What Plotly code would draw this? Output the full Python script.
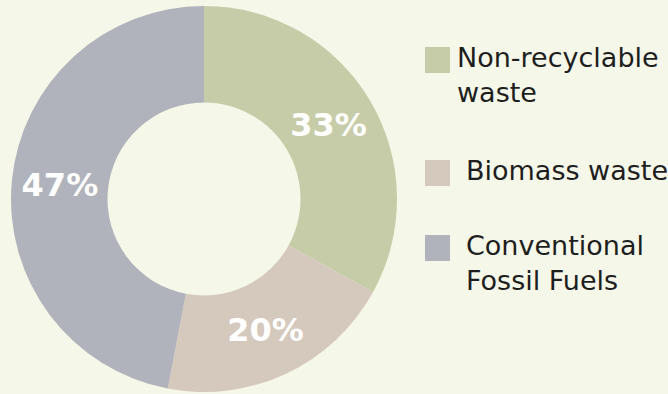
import plotly.graph_objects as go

labels = ["Non-recyclable waste", "Biomass waste", "Conventional Fossil Fuels"]
legend_text = ["Non-recyclable<br>waste", "Biomass waste", "Conventional<br>Fossil Fuels"]
values = [33, 20, 47]
colors = ["#c7cca8", "#d5c8bc", "#b0b3bb"]

W, H = 668, 394
BG = "#f5f7e8"
FONT = "DejaVu Sans"

fig = go.Figure(go.Pie(
    labels=labels,
    values=values,
    hole=0.5,
    sort=False,
    direction="clockwise",
    rotation=0,
    marker=dict(colors=colors, line=dict(width=0)),
    texttemplate="%{percent:.0%}",
    textposition="inside",
    insidetextorientation="horizontal",
    textfont=dict(family=FONT, size=32, color="white", weight="bold"),
    domain=dict(x=[0, 408 / W], y=[2 / H, 388 / H]),
    showlegend=False,
))

# manual legend (large squares, as in the reference)
sq_top = [47, 160, 235]
txt_x = [455, 464, 464]
shapes, annotations = [], []
for i, (t, c) in enumerate(zip(legend_text, colors)):
    top = sq_top[i]
    shapes.append(dict(type="rect", xref="paper", yref="paper",
                       x0=425 / W, x1=450 / W, y0=1 - (top + 26) / H, y1=1 - top / H,
                       fillcolor=c, line=dict(width=0)))
    annotations.append(dict(text=t, xref="paper", yref="paper",
                            x=txt_x[i] / W, y=1 - (top - 7) / H,
                            xanchor="left", yanchor="top", align="left",
                            showarrow=False,
                            font=dict(family=FONT, size=27, color="#1e1e1e")))

fig.update_layout(
    width=W, height=H,
    margin=dict(l=0, r=0, t=0, b=0),
    paper_bgcolor=BG, plot_bgcolor=BG,
    shapes=shapes, annotations=annotations,
)

fig.write_html("out.html")
